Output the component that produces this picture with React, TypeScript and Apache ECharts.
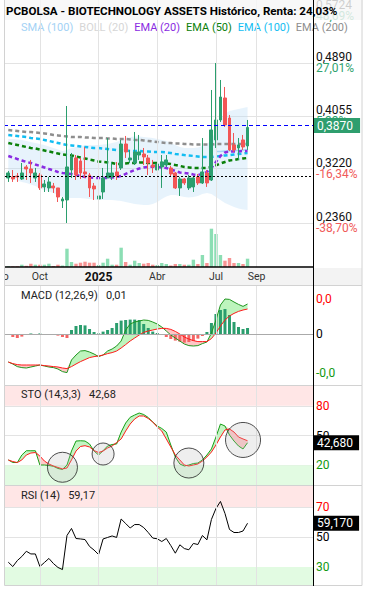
import React, { useEffect, useRef } from 'react';
import * as echarts from 'echarts';

// ---------- categories (weekly) ----------
const START_DATE_UTC = Date.UTC(2024, 6, 29);
const WEEK_COUNT = 70;
const FIRST = 2; // first week with data (2024-08-12)
const weeks: string[] = [];
for (let k = 0; k < WEEK_COUNT; k++) {
  weeks.push(new Date(START_DATE_UTC + k * 7 * 86400000).toISOString().slice(0, 10));
}
const tickLabels = ['Ago', 'Oct', '2025', 'Abr', 'Jul', 'Sep'];
const tickWeeks = ['2024-07-29', '2024-09-30', '2024-12-30', '2025-03-31', '2025-06-30', '2025-09-01'];

// ---------- price (open, close, low, high) ----------
const ohlc = [
  [0.3072, 0.3151, 0.3009, 0.3183], [0.3088, 0.3056, 0.3009, 0.3198], [0.3103, 0.3088, 0.3009, 0.3151],
  [0.3056, 0.3151, 0.3040, 0.3309], [0.3246, 0.3214, 0.3040, 0.3277], [0.3214, 0.3151, 0.2993, 0.3357],
  [0.3072, 0.3151, 0.3009, 0.3230], [0.3119, 0.2914, 0.2882, 0.3151], [0.2930, 0.2977, 0.2850, 0.3040],
  [0.2914, 0.3009, 0.2850, 0.3088], [0.2945, 0.2914, 0.2835, 0.2993], [0.2914, 0.2771, 0.2692, 0.2914],
  [0.2708, 0.2740, 0.2597, 0.2771], [0.2724, 0.3246, 0.2360, 0.4210], [0.3198, 0.3404, 0.3072, 0.3467],
  [0.3388, 0.3119, 0.3040, 0.3435], [0.3341, 0.3151, 0.3056, 0.3388], [0.3167, 0.3135, 0.3072, 0.3562],
  [0.3119, 0.2914, 0.2771, 0.3151], [0.2945, 0.2898, 0.2724, 0.2993], [0.2740, 0.2787, 0.2613, 0.2914],
  [0.2850, 0.3072, 0.2740, 0.3230], [0.3072, 0.3151, 0.3072, 0.3704], [0.3088, 0.3151, 0.3040, 0.3325],
  [0.3167, 0.3103, 0.3040, 0.3325], [0.3230, 0.3609, 0.3198, 0.3673], [0.3609, 0.3483, 0.3388, 0.3736],
  [0.3357, 0.3388, 0.3309, 0.3515], [0.3309, 0.3483, 0.3277, 0.3799], [0.3435, 0.3483, 0.3357, 0.3752],
  [0.3451, 0.3404, 0.3277, 0.3546], [0.3388, 0.3309, 0.3119, 0.3435], [0.3277, 0.3246, 0.3151, 0.3357],
  [0.3198, 0.3293, 0.3167, 0.3467], [0.3246, 0.3325, 0.2914, 0.3435], [0.3277, 0.3357, 0.3246, 0.3435],
  [0.3230, 0.3135, 0.3088, 0.3262], [0.3151, 0.2914, 0.2898, 0.3167], [0.2914, 0.3056, 0.2787, 0.3088],
  [0.3056, 0.2993, 0.2961, 0.3072], [0.2914, 0.3072, 0.2882, 0.3119], [0.2930, 0.3072, 0.2850, 0.3088],
  [0.3088, 0.2993, 0.2961, 0.3135], [0.2993, 0.3167, 0.2977, 0.3704], [0.3151, 0.2993, 0.2930, 0.3198],
  [0.3040, 0.3831, 0.3024, 0.4463], [0.3673, 0.3989, 0.3546, 0.4890], [0.3989, 0.4352, 0.3957, 0.4621],
  [0.4337, 0.3910, 0.3878, 0.4511], [0.4020, 0.3515, 0.3499, 0.4068], [0.3594, 0.3515, 0.3483, 0.3783],
  [0.3546, 0.3594, 0.3357, 0.3704], [0.3673, 0.3562, 0.3515, 0.3752], [0.3578, 0.3870, 0.3515, 0.3989],
];
const volume = [
  800, 600, 700, 2300, 1200, 3300, 2300, 2300, 2300, 3300,
  1000, 2300, 1500, 18300, 5000, 3300, 4300, 5300, 4300, 4300,
  2000, 4300, 8300, 2300, 2300, 19300, 5000, 2300, 6300, 4000,
  3300, 4000, 2300, 2000, 4000, 3000, 1500, 3000, 3000, 2300,
  2300, 7300, 3000, 12000, 4000, 38300, 33000, 12000, 6300, 9000,
  4000, 4000, 3000, 8300,
];
const ema20 = [
  0.3420, 0.3396, 0.3372, 0.3349, 0.3325, 0.3309, 0.3285, 0.3262, 0.3238, 0.3214,
  0.3191, 0.3167, 0.3151, 0.3143, 0.3135, 0.3119, 0.3103, 0.3088, 0.3080, 0.3072,
  0.3072, 0.3072, 0.3072, 0.3080, 0.3088, 0.3103, 0.3135, 0.3167, 0.3198, 0.3222,
  0.3238, 0.3246, 0.3250, 0.3246, 0.3238, 0.3230, 0.3206, 0.3183, 0.3159, 0.3151,
  0.3143, 0.3127, 0.3119, 0.3135, 0.3167, 0.3230, 0.3325, 0.3420, 0.3475, 0.3491,
  0.3491, 0.3491, 0.3499, 0.3499,
];
const ema50 = [
  0.3625, 0.3609, 0.3594, 0.3578, 0.3562, 0.3546, 0.3538, 0.3522, 0.3507, 0.3491,
  0.3475, 0.3459, 0.3443, 0.3435, 0.3428, 0.3412, 0.3396, 0.3380, 0.3364, 0.3349,
  0.3333, 0.3325, 0.3317, 0.3309, 0.3293, 0.3293, 0.3301, 0.3309, 0.3309, 0.3317,
  0.3317, 0.3309, 0.3309, 0.3309, 0.3309, 0.3301, 0.3293, 0.3277, 0.3262, 0.3246,
  0.3238, 0.3230, 0.3230, 0.3230, 0.3230, 0.3246, 0.3270, 0.3301, 0.3325, 0.3349,
  0.3357, 0.3372, 0.3380, 0.3388,
];
const ema100 = [
  0.3752, 0.3744, 0.3736, 0.3728, 0.3720, 0.3704, 0.3696, 0.3688, 0.3673, 0.3657,
  0.3641, 0.3625, 0.3609, 0.3594, 0.3586, 0.3578, 0.3570, 0.3562, 0.3554, 0.3546,
  0.3546, 0.3538, 0.3530, 0.3522, 0.3515, 0.3515, 0.3507, 0.3499, 0.3499, 0.3499,
  0.3491, 0.3491, 0.3483, 0.3483, 0.3483, 0.3475, 0.3467, 0.3451, 0.3443, 0.3435,
  0.3428, 0.3420, 0.3412, 0.3404, 0.3404, 0.3404, 0.3412, 0.3420, 0.3428, 0.3435,
  0.3443, 0.3451, 0.3459, 0.3467,
];
const ema200 = [
  0.3831, 0.3823, 0.3815, 0.3807, 0.3799, 0.3799, 0.3791, 0.3783, 0.3775, 0.3767,
  0.3752, 0.3744, 0.3736, 0.3728, 0.3720, 0.3720, 0.3720, 0.3712, 0.3712, 0.3704,
  0.3704, 0.3704, 0.3696, 0.3696, 0.3688, 0.3688, 0.3688, 0.3681, 0.3673, 0.3673,
  0.3665, 0.3657, 0.3649, 0.3641, 0.3633, 0.3625, 0.3625, 0.3617, 0.3617, 0.3609,
  0.3609, 0.3601, 0.3601, 0.3601, 0.3601, 0.3601, 0.3609, 0.3609, 0.3609, 0.3609,
  0.3609, 0.3609, 0.3609, 0.3609,
];
const sma100 = [
  null, null, null, null, null, null, null, null, null, null,
  null, null, null, null, null, null, null, null, null, null,
  null, null, null, null, null, null, null, null, null, null,
  null, null, null, null, null, null, null, null, null, null,
  null, null, null, null, null, null, 0.3491, 0.3491, 0.3499, 0.3499,
  0.3507, 0.3507, 0.3515, 0.3515,
];
const bollUpper = [
  0.3688, 0.3688, 0.3681, 0.3673, 0.3657, 0.3641, 0.3625, 0.3609, 0.3594, 0.3570,
  0.3546, 0.3522, 0.3499, 0.3515, 0.3546, 0.3562, 0.3578, 0.3586, 0.3594, 0.3594,
  0.3594, 0.3601, 0.3609, 0.3625, 0.3641, 0.3673, 0.3704, 0.3720, 0.3728, 0.3728,
  0.3720, 0.3712, 0.3704, 0.3688, 0.3673, 0.3657, 0.3625, 0.3594, 0.3562, 0.3546,
  0.3546, 0.3546, 0.3554, 0.3578, 0.3609, 0.3673, 0.3831, 0.3989, 0.4084, 0.4131,
  0.4147, 0.4163, 0.4179, 0.4194,
];
const bollLower = [
  0.3072, 0.3056, 0.3032, 0.3009, 0.2993, 0.2969, 0.2945, 0.2914, 0.2882, 0.2858,
  0.2835, 0.2803, 0.2771, 0.2756, 0.2756, 0.2756, 0.2756, 0.2748, 0.2740, 0.2732,
  0.2724, 0.2724, 0.2724, 0.2724, 0.2716, 0.2708, 0.2692, 0.2677, 0.2661, 0.2653,
  0.2645, 0.2645, 0.2661, 0.2692, 0.2740, 0.2779, 0.2803, 0.2803, 0.2787, 0.2771,
  0.2763, 0.2771, 0.2787, 0.2819, 0.2835, 0.2819, 0.2771, 0.2724, 0.2677, 0.2645,
  0.2613, 0.2590, 0.2574, 0.2566,
];
const priceTicks = [0.2360, 0.3220, 0.4055, 0.4890, 0.5724];
const priceTickPct = ['-38,70%', '-16,34%', '5,33%', '27,01%', '48,69%'];
const lastPrice = 0.3870;
const basePrice = 0.3120;

// ---------- MACD (12,26,9) ----------
const macd = [
  -0.0140, -0.0150, -0.0163, -0.0168, -0.0170, -0.0165, -0.0160, -0.0155, -0.0160, -0.0165,
  -0.0168, -0.0175, -0.0188, -0.0193, -0.0130, -0.0105, -0.0085, -0.0083, -0.0090, -0.0100,
  -0.0113, -0.0105, -0.0085, -0.0075, -0.0060, -0.0035, 0.0020, 0.0050, 0.0060, 0.0065,
  0.0070, 0.0068, 0.0060, 0.0050, 0.0035, 0.0015, -0.0005, -0.0020, -0.0035, -0.0050,
  -0.0058, -0.0060, -0.0058, -0.0048, -0.0040, 0.0005, 0.0070, 0.0145, 0.0175, 0.0173,
  0.0160, 0.0148, 0.0138, 0.0150,
];
const macdSignal = [
  -0.0140, -0.0148, -0.0153, -0.0155, -0.0155, -0.0155, -0.0155, -0.0155, -0.0158, -0.0160,
  -0.0163, -0.0165, -0.0170, -0.0173, -0.0163, -0.0150, -0.0138, -0.0128, -0.0118, -0.0113,
  -0.0110, -0.0105, -0.0098, -0.0093, -0.0085, -0.0070, -0.0053, -0.0035, -0.0020, -0.0005,
  0.0008, 0.0015, 0.0020, 0.0025, 0.0028, 0.0028, 0.0023, 0.0013, 0.0000, -0.0015,
  -0.0025, -0.0033, -0.0038, -0.0038, -0.0038, -0.0023, 0.0005, 0.0040, 0.0070, 0.0090,
  0.0103, 0.0113, 0.0120, 0.0125,
];
const macdHist = [
  -0.0005, -0.0015, -0.0020, -0.0013, -0.0005, 0.0003, 0.0000, 0.0003, 0.0000, -0.0003,
  -0.0005, -0.0008, -0.0015, -0.0020, 0.0020, 0.0040, 0.0045, 0.0043, 0.0025, 0.0010,
  0.0003, 0.0012, 0.0020, 0.0030, 0.0055, 0.0067, 0.0070, 0.0072, 0.0072, 0.0070,
  0.0050, 0.0030, 0.0012, 0.0005, -0.0005, -0.0015, -0.0025, -0.0033, -0.0038, -0.0043,
  -0.0040, -0.0035, -0.0023, -0.0010, 0.0010, 0.0055, 0.0100, 0.0120, 0.0125, 0.0095,
  0.0060, 0.0035, 0.0025, 0.0030,
];

// ---------- Stochastic (14,3,3) ----------
const stoK = [
  25.3, 22.7, 22.7, 30.3, 34.6, 34.6, 34.6, 20.2, 20.2, 19.7,
  18.9, 16.7, 15.7, 20.2, 34.3, 44.4, 44.7, 44.4, 41.4, 34.3,
  30.3, 34.6, 39.4, 40.9, 41.4, 53.5, 62.6, 68.4, 70.7, 72.7,
  71.2, 68.2, 63.6, 59.6, 57.1, 53.5, 40.4, 28.3, 21.2, 19.2,
  20.2, 21.7, 22.2, 25.3, 30.3, 36.4, 48.5, 61.6, 59.6, 50.5,
  44.4, 39.4, 36.4, 42.68,
];
const stoD = [
  25.3, 23.7, 22.7, 25.3, 30.3, 32.3, 32.8, 29.3, 24.2, 21.2,
  19.2, 17.7, 16.2, 17.2, 25.3, 34.3, 38.9, 39.7, 38.4, 34.8,
  32.8, 34.3, 37.4, 39.4, 42.9, 46.5, 54.5, 61.6, 66.7, 69.7,
  69.7, 67.2, 63.6, 58.6, 54.5, 46.5, 38.4, 30.3, 25.3, 20.2,
  19.2, 20.2, 21.2, 24.2, 28.3, 33.3, 40.4, 48.5, 55.6, 56.6,
  53.5, 48.5, 46.5, 44.7,
];
const signalWeeks = ['2024-11-04', '2025-01-06', '2025-05-19', '2025-08-11'];
const signalValues = [17.9, 31.3, 22.2, 45.5];

// ---------- RSI (14) ----------
const rsi = [
  33.2, 30.3, 34.3, 37.0, 40.5, 38.7, 38.7, 30.3, 33.0, 35.7,
  32.3, 29.7, 28.3, 51.0, 55.7, 49.0, 48.7, 48.3, 43.7, 41.3,
  38.3, 48.7, 49.7, 50.7, 49.7, 62.0, 59.0, 56.0, 58.3, 58.3,
  56.3, 53.0, 49.3, 48.8, 47.0, 49.0, 44.3, 39.2, 44.8, 42.3,
  41.5, 45.7, 45.0, 51.0, 48.1, 61.7, 69.0, 73.7, 65.7, 55.0,
  53.0, 53.0, 54.0, 59.17,
];

// ---------- helpers ----------
const GREEN = '#2b9e6e';
const RED = '#f25656';
const FONT = 'Roboto, "Noto Sans", sans-serif';
const es = (v: number, d: number) => v.toFixed(d).replace('.', ',');
function pad(arr: any[], empty: any = null) {
  const out: any[] = [];
  for (let k = 0; k < FIRST; k++) out.push(empty);
  arr.forEach((v) => out.push(v));
  while (out.length < WEEK_COUNT) out.push(empty);
  return out;
}

function buildOption() {
  const gridL = -3;
  const gridR = 54;
  const grids = [
    { left: gridL, right: gridR, top: 0, height: 267 },
    { left: gridL, right: gridR, top: 286, height: 99 },
    { left: gridL, right: gridR, top: 386, height: 99 },
    { left: gridL, right: gridR, top: 486, height: 99 },
  ].map((g) => ({ ...g, containLabel: false, outerBoundsMode: 'none', show: false }));

  const isTick = (_i: number, val: string) => tickWeeks.indexOf(val) >= 0;

  const xAxis = grids.map((_g, k) => ({
    type: 'category',
    gridIndex: k,
    data: weeks,
    boundaryGap: true,
    z: 5,
    axisTick: { show: false },
    axisLine: k === 0 ? { show: true, onZero: false, lineStyle: { color: '#000', width: 1.5 } } : { show: false },
    axisLabel:
      k === 0
        ? {
            show: true,
            interval: isTick,
            margin: 4,
            color: '#333',
            fontSize: 10.5,
            fontFamily: FONT,
            formatter: (val: string) => {
              const t = tickLabels[tickWeeks.indexOf(val)] || '';
              return /^\d+$/.test(t) ? `{b|${t}}` : t;
            },
            rich: { b: { fontWeight: 'bold', fontSize: 12, color: '#111', fontFamily: FONT } },
          }
        : { show: false },
    splitLine: { show: true, interval: isTick, alignWithLabel: true, lineStyle: { color: '#e3e3e3', width: 1 } },
  }));

  const priceMin = 0.1664;
  const priceMax = 0.5886;
  const macdTicks = [Math.max(...macd), 0, Math.min(...macd)];

  const yAxis: any[] = [
    {
      type: 'value',
      gridIndex: 0,
      position: 'right',
      min: priceMin,
      max: priceMax,
      axisLine: { show: true, lineStyle: { color: '#000' } },
      axisTick: { show: false, customValues: priceTicks },
      splitLine: { show: true, lineStyle: { color: '#e3e3e3' } },
      axisLabel: {
        customValues: priceTicks,
        margin: 3,
        fontFamily: FONT,
        formatter: (v: any) => {
          const n = Number(v);
          let k = 0;
          priceTicks.forEach((t, j) => {
            if (Math.abs(t - n) < Math.abs(priceTicks[k] - n)) k = j;
          });
          const pct = priceTickPct[k];
          return `{p|${es(n, 4)}}\n{${pct.charAt(0) === '-' ? 'r' : 'g'}|${pct}}`;
        },
        rich: {
          p: { color: '#111', fontSize: 12, lineHeight: 11, fontFamily: FONT },
          g: { color: '#2fa36f', fontSize: 12, lineHeight: 11, fontFamily: FONT },
          r: { color: '#f05a5a', fontSize: 12, lineHeight: 11, fontFamily: FONT },
        },
      },
    },
    { type: 'value', gridIndex: 0, min: 0, max: 267000, show: false, splitLine: { show: false } },
    {
      type: 'value',
      gridIndex: 1,
      position: 'right',
      min: -0.0255,
      max: 0.024,
      axisLine: { show: true, lineStyle: { color: '#000' } },
      axisTick: { show: false, customValues: macdTicks },
      splitLine: { show: false },
      axisLabel: {
        customValues: macdTicks,
        margin: 3,
        fontSize: 12,
        fontFamily: FONT,
        formatter: (v: any) => {
          const n = Number(v);
          return n === 0 ? '0' : es(n, 1);
        },
        color: (v: any) => {
          const n = Number(v);
          return n > 0 ? '#ff0000' : n < 0 ? '#119911' : '#000';
        },
      },
    },
    {
      type: 'value',
      gridIndex: 2,
      position: 'right',
      min: 0,
      max: 100,
      axisLine: { show: true, lineStyle: { color: '#000' } },
      axisTick: { show: false, customValues: [20, 50, 80] },
      splitLine: { show: true, lineStyle: { color: '#e3e3e3' } },
      axisLabel: {
        customValues: [20, 50, 80],
        margin: 3,
        fontSize: 12,
        fontFamily: FONT,
        color: (v: any) => {
          const n = Number(v);
          return n >= 80 ? '#ff0000' : n <= 20 ? '#119911' : '#000';
        },
      },
    },
    {
      type: 'value',
      gridIndex: 3,
      position: 'right',
      min: 18,
      max: 84,
      axisLine: { show: true, lineStyle: { color: '#000' } },
      axisTick: { show: false, customValues: [30, 50, 70] },
      splitLine: { show: true, lineStyle: { color: '#e3e3e3' } },
      axisLabel: {
        customValues: [30, 50, 70],
        margin: 3,
        fontSize: 12,
        fontFamily: FONT,
        color: (v: any) => {
          const n = Number(v);
          return n >= 70 ? '#ff0000' : n <= 30 ? '#119911' : '#000';
        },
      },
    },
  ];

  const dashed = (name: string, data: number[], color: string, z: number) => ({
    name,
    type: 'line',
    xAxisIndex: 0,
    yAxisIndex: 0,
    data: pad(data),
    symbol: 'none',
    silent: true,
    z,
    lineStyle: { color, width: 2.5, type: [4, 3] },
  });

  const volData = volume.map((v, k) => ({
    value: v,
    itemStyle: { color: ohlc[k][1] >= ohlc[k][0] ? 'rgba(64,200,130,0.6)' : 'rgba(245,90,90,0.65)' },
  }));

  const macdAbove = macd.map((m, k) => Math.max(m - macdSignal[k], 0));
  const macdBelow = macd.map((m, k) => Math.max(macdSignal[k] - m, 0));
  const kAbove = stoK.map((v, k) => Math.max(v - stoD[k], 0));
  const kBelow = stoK.map((v, k) => Math.max(stoD[k] - v, 0));

  const fillBase = (xi: number, yi: number, data: number[], stack: string, extra: any = {}) => ({
    type: 'line',
    xAxisIndex: xi,
    yAxisIndex: yi,
    data: pad(data),
    stack,
    stackStrategy: 'all',
    symbol: 'none',
    silent: true,
    z: 1,
    lineStyle: { width: 0, opacity: 0 },
    ...extra,
  });
  const fillTop = (xi: number, yi: number, data: number[], stack: string, color: string) => ({
    type: 'line',
    xAxisIndex: xi,
    yAxisIndex: yi,
    data: pad(data),
    stack,
    stackStrategy: 'all',
    symbol: 'none',
    silent: true,
    z: 1,
    lineStyle: { width: 0, opacity: 0 },
    areaStyle: { color, opacity: 1 },
  });
  const valueBox = (value: number, text: string, bg: string) => ({
    silent: true,
    symbol: ['none', 'none'],
    data: [
      {
        yAxis: value,
        lineStyle: { color: 'rgba(0,0,0,0)', width: 0 },
        label: {
          show: true,
          position: 'end',
          distance: 1,
          formatter: text,
          color: '#fff',
          backgroundColor: bg,
          padding: [2, 6, 1, 3],
          fontSize: 12,
          fontFamily: FONT,
        },
      },
    ],
  });
  const bands = (lo: number, loTop: number, hiBottom: number, hi: number) => ({
    silent: true,
    data: [
      [{ yAxis: hiBottom, itemStyle: { color: '#ffe6e6' } }, { yAxis: hi }],
      [{ yAxis: lo, itemStyle: { color: '#e2fbe2' } }, { yAxis: loTop }],
    ],
  });

  const series: any[] = [
    // Bollinger band
    fillBase(0, 0, bollLower, 'boll'),
    {
      name: 'BOLL (20)',
      type: 'line',
      xAxisIndex: 0,
      yAxisIndex: 0,
      data: pad(bollUpper.map((u, k) => u - bollLower[k])),
      stack: 'boll',
      symbol: 'none',
      silent: true,
      z: 1,
      lineStyle: { width: 0, opacity: 0 },
      areaStyle: { color: 'rgba(180,218,246,0.45)' },
    },
    {
      name: 'SMA (100)',
      type: 'line',
      xAxisIndex: 0,
      yAxisIndex: 0,
      data: pad(sma100),
      symbol: 'none',
      silent: true,
      z: 2,
      lineStyle: { color: '#a6d4f6', width: 1.5 },
    },
    dashed('EMA (200)', ema200, '#8e8e8e', 2),
    dashed('EMA (100)', ema100, '#12bdf2', 2),
    dashed('EMA (50)', ema50, '#0a800a', 2),
    dashed('EMA (20)', ema20, '#8a2be2', 2),
    {
      type: 'bar',
      xAxisIndex: 0,
      yAxisIndex: 1,
      data: pad(volData, '-'),
      barWidth: 3.4,
      silent: true,
      z: 1,
    },
    {
      type: 'candlestick',
      xAxisIndex: 0,
      yAxisIndex: 0,
      data: pad(ohlc, '-'),
      barWidth: 3.4,
      z: 4,
      itemStyle: { color: GREEN, color0: RED, borderColor: GREEN, borderColor0: RED, borderWidth: 1 },
      markLine: {
        silent: true,
        symbol: ['none', 'none'],
        data: [
          {
            yAxis: lastPrice,
            lineStyle: { color: '#0000ff', type: [4, 3], width: 1 },
            label: {
              show: true,
              position: 'end',
              distance: 1,
              formatter: es(lastPrice, 4),
              color: '#fff',
              backgroundColor: '#2e9e6e',
              padding: [2, 7, 1, 3],
              fontSize: 12,
              fontFamily: FONT,
            },
          },
          { yAxis: basePrice, lineStyle: { color: '#000', type: [2, 2], width: 1 }, label: { show: false } },
        ],
      },
    },

    // MACD
    fillBase(1, 2, macdSignal, 'mg'),
    fillTop(1, 2, macdAbove, 'mg', '#bdf4bd'),
    fillBase(1, 2, macd, 'mr'),
    fillTop(1, 2, macdBelow, 'mr', '#ffc6c6'),
    {
      type: 'bar',
      xAxisIndex: 1,
      yAxisIndex: 2,
      data: pad(macdHist, '-'),
      barWidth: 3,
      silent: true,
      z: 2,
      itemStyle: { color: (p: any) => (Number(p.value) >= 0 ? GREEN : '#f46464') },
      markLine: {
        silent: true,
        symbol: ['none', 'none'],
        data: [{ yAxis: 0, lineStyle: { color: '#aaaaaa', type: 'solid', width: 1 }, label: { show: false } }],
      },
    },
    {
      name: 'MACD',
      type: 'line',
      xAxisIndex: 1,
      yAxisIndex: 2,
      data: pad(macd),
      symbol: 'none',
      silent: true,
      z: 3,
      lineStyle: { color: '#1f961f', width: 1 },
    },
    {
      name: 'Señal',
      type: 'line',
      xAxisIndex: 1,
      yAxisIndex: 2,
      data: pad(macdSignal),
      symbol: 'none',
      silent: true,
      z: 3,
      lineStyle: { color: '#ff1a1a', width: 1 },
    },

    // Stochastic
    fillBase(2, 3, stoD, 'kg', { markArea: bands(0, 20, 80, 100) }),
    fillTop(2, 3, kAbove, 'kg', '#c3f5c3'),
    fillBase(2, 3, stoK, 'kr'),
    fillTop(2, 3, kBelow, 'kr', '#ffcaca'),
    {
      name: '%K',
      type: 'line',
      xAxisIndex: 2,
      yAxisIndex: 3,
      data: pad(stoK),
      symbol: 'none',
      silent: true,
      z: 3,
      lineStyle: { color: '#17a017', width: 1 },
      markLine: valueBox(stoK[stoK.length - 1], es(stoK[stoK.length - 1], 3), '#000'),
    },
    {
      name: '%D',
      type: 'line',
      xAxisIndex: 2,
      yAxisIndex: 3,
      data: pad(stoD),
      symbol: 'none',
      silent: true,
      z: 3,
      lineStyle: { color: '#ff1a1a', width: 1 },
    },
    {
      type: 'scatter',
      xAxisIndex: 2,
      yAxisIndex: 3,
      data: signalWeeks.map((w, k) => [w, signalValues[k]]),
      symbol: 'circle',
      symbolSize: (_v: any, p: any) => [30, 22, 30, 35][p.dataIndex],
      silent: true,
      z: 5,
      itemStyle: { color: 'rgba(185,185,185,0.3)', borderColor: '#222', borderWidth: 1 },
    },

    // RSI
    {
      name: 'RSI',
      type: 'line',
      xAxisIndex: 3,
      yAxisIndex: 4,
      data: pad(rsi),
      symbol: 'none',
      silent: true,
      z: 3,
      lineStyle: { color: '#000', width: 1 },
      markArea: bands(18, 30, 70, 84),
      markLine: valueBox(rsi[rsi.length - 1], es(rsi[rsi.length - 1], 3), '#000'),
    },
  ];

  const panelRect = (y: number, h: number) => ({
    type: 'rect',
    z: 12,
    silent: true,
    shape: { x: 4.5, y, width: 357.5, height: h },
    style: { fill: 'none', stroke: '#d2d2d2', lineWidth: 1 },
  });

  return {
    animation: false,
    backgroundColor: '#fff',
    textStyle: { fontFamily: FONT },
    title: [
      {
        text: 'PCBOLSA - BIOTECHNOLOGY ASSETS Histórico, Renta: 24,03%',
        left: 6,
        top: 5,
        padding: 0,
        z: 10,
        textStyle: { fontSize: 11.6, fontWeight: 'bold', color: '#000', fontFamily: FONT },
      },
      {
        text: 'MACD (12,26,9)   0,01',
        left: 21,
        top: 290,
        padding: 0,
        textStyle: { fontSize: 11, fontWeight: 'normal', color: '#222', fontFamily: FONT },
      },
      {
        text: 'STO (14,3,3)   42,68',
        left: 21,
        top: 389,
        padding: 0,
        textStyle: { fontSize: 11, fontWeight: 'normal', color: '#222', fontFamily: FONT },
      },
      {
        text: 'RSI (14)   59,17',
        left: 21,
        top: 490,
        padding: 0,
        textStyle: { fontSize: 11, fontWeight: 'normal', color: '#222', fontFamily: FONT },
      },
    ],
    legend: {
      top: 22,
      left: 16,
      width: 350,
      padding: 0,
      itemGap: 1,
      itemWidth: 0,
      itemHeight: 0,
      icon: 'none',
      selectedMode: false,
      textStyle: { fontSize: 11, fontFamily: FONT },
      data: [
        { name: 'SMA (100)', textStyle: { color: '#a3d2f5' } },
        { name: 'BOLL (20)', textStyle: { color: '#d6d6d6' } },
        { name: 'EMA (20)', textStyle: { color: '#8a2be2' } },
        { name: 'EMA (50)', textStyle: { color: '#0a800a' } },
        { name: 'EMA (100)', textStyle: { color: '#12bdf2' } },
        { name: 'EMA (200)', textStyle: { color: '#8e8e8e' } },
      ],
    },
    grid: grids,
    xAxis,
    yAxis,
    series,
    graphic: [
      { type: 'rect', z: 1, silent: true, shape: { x: 4, y: 268, width: 358, height: 17 }, style: { fill: '#f3f3f3' } },
      { type: 'rect', z: 8, silent: true, shape: { x: 0, y: 0, width: 363, height: 20 }, style: { fill: 'rgba(247,247,247,0.82)' } },
      { type: 'rect', z: 9, silent: true, shape: { x: 0, y: 0, width: 4, height: 590 }, style: { fill: '#fff' } },
      panelRect(-1, 286.5),
      panelRect(285.5, 100),
      panelRect(385.5, 100),
      panelRect(485.5, 100),
      {
        type: 'line',
        z: 13,
        silent: true,
        shape: { x1: 313.5, y1: 0, x2: 313.5, y2: 586 },
        style: { stroke: '#000', lineWidth: 1 },
      },
    ],
  };
}

export default function App() {
  const ref = useRef<HTMLDivElement>(null);
  useEffect(() => {
    if (!ref.current) return;
    const chart = echarts.init(ref.current, null, { renderer: 'svg' });
    chart.setOption(buildOption() as any);
    return () => chart.dispose();
  }, []);
  return (
    <div
      ref={ref}
      style={{ position: 'fixed', left: 0, top: 0, width: 367, height: 590, background: '#fff' }}
    />
  );
}
